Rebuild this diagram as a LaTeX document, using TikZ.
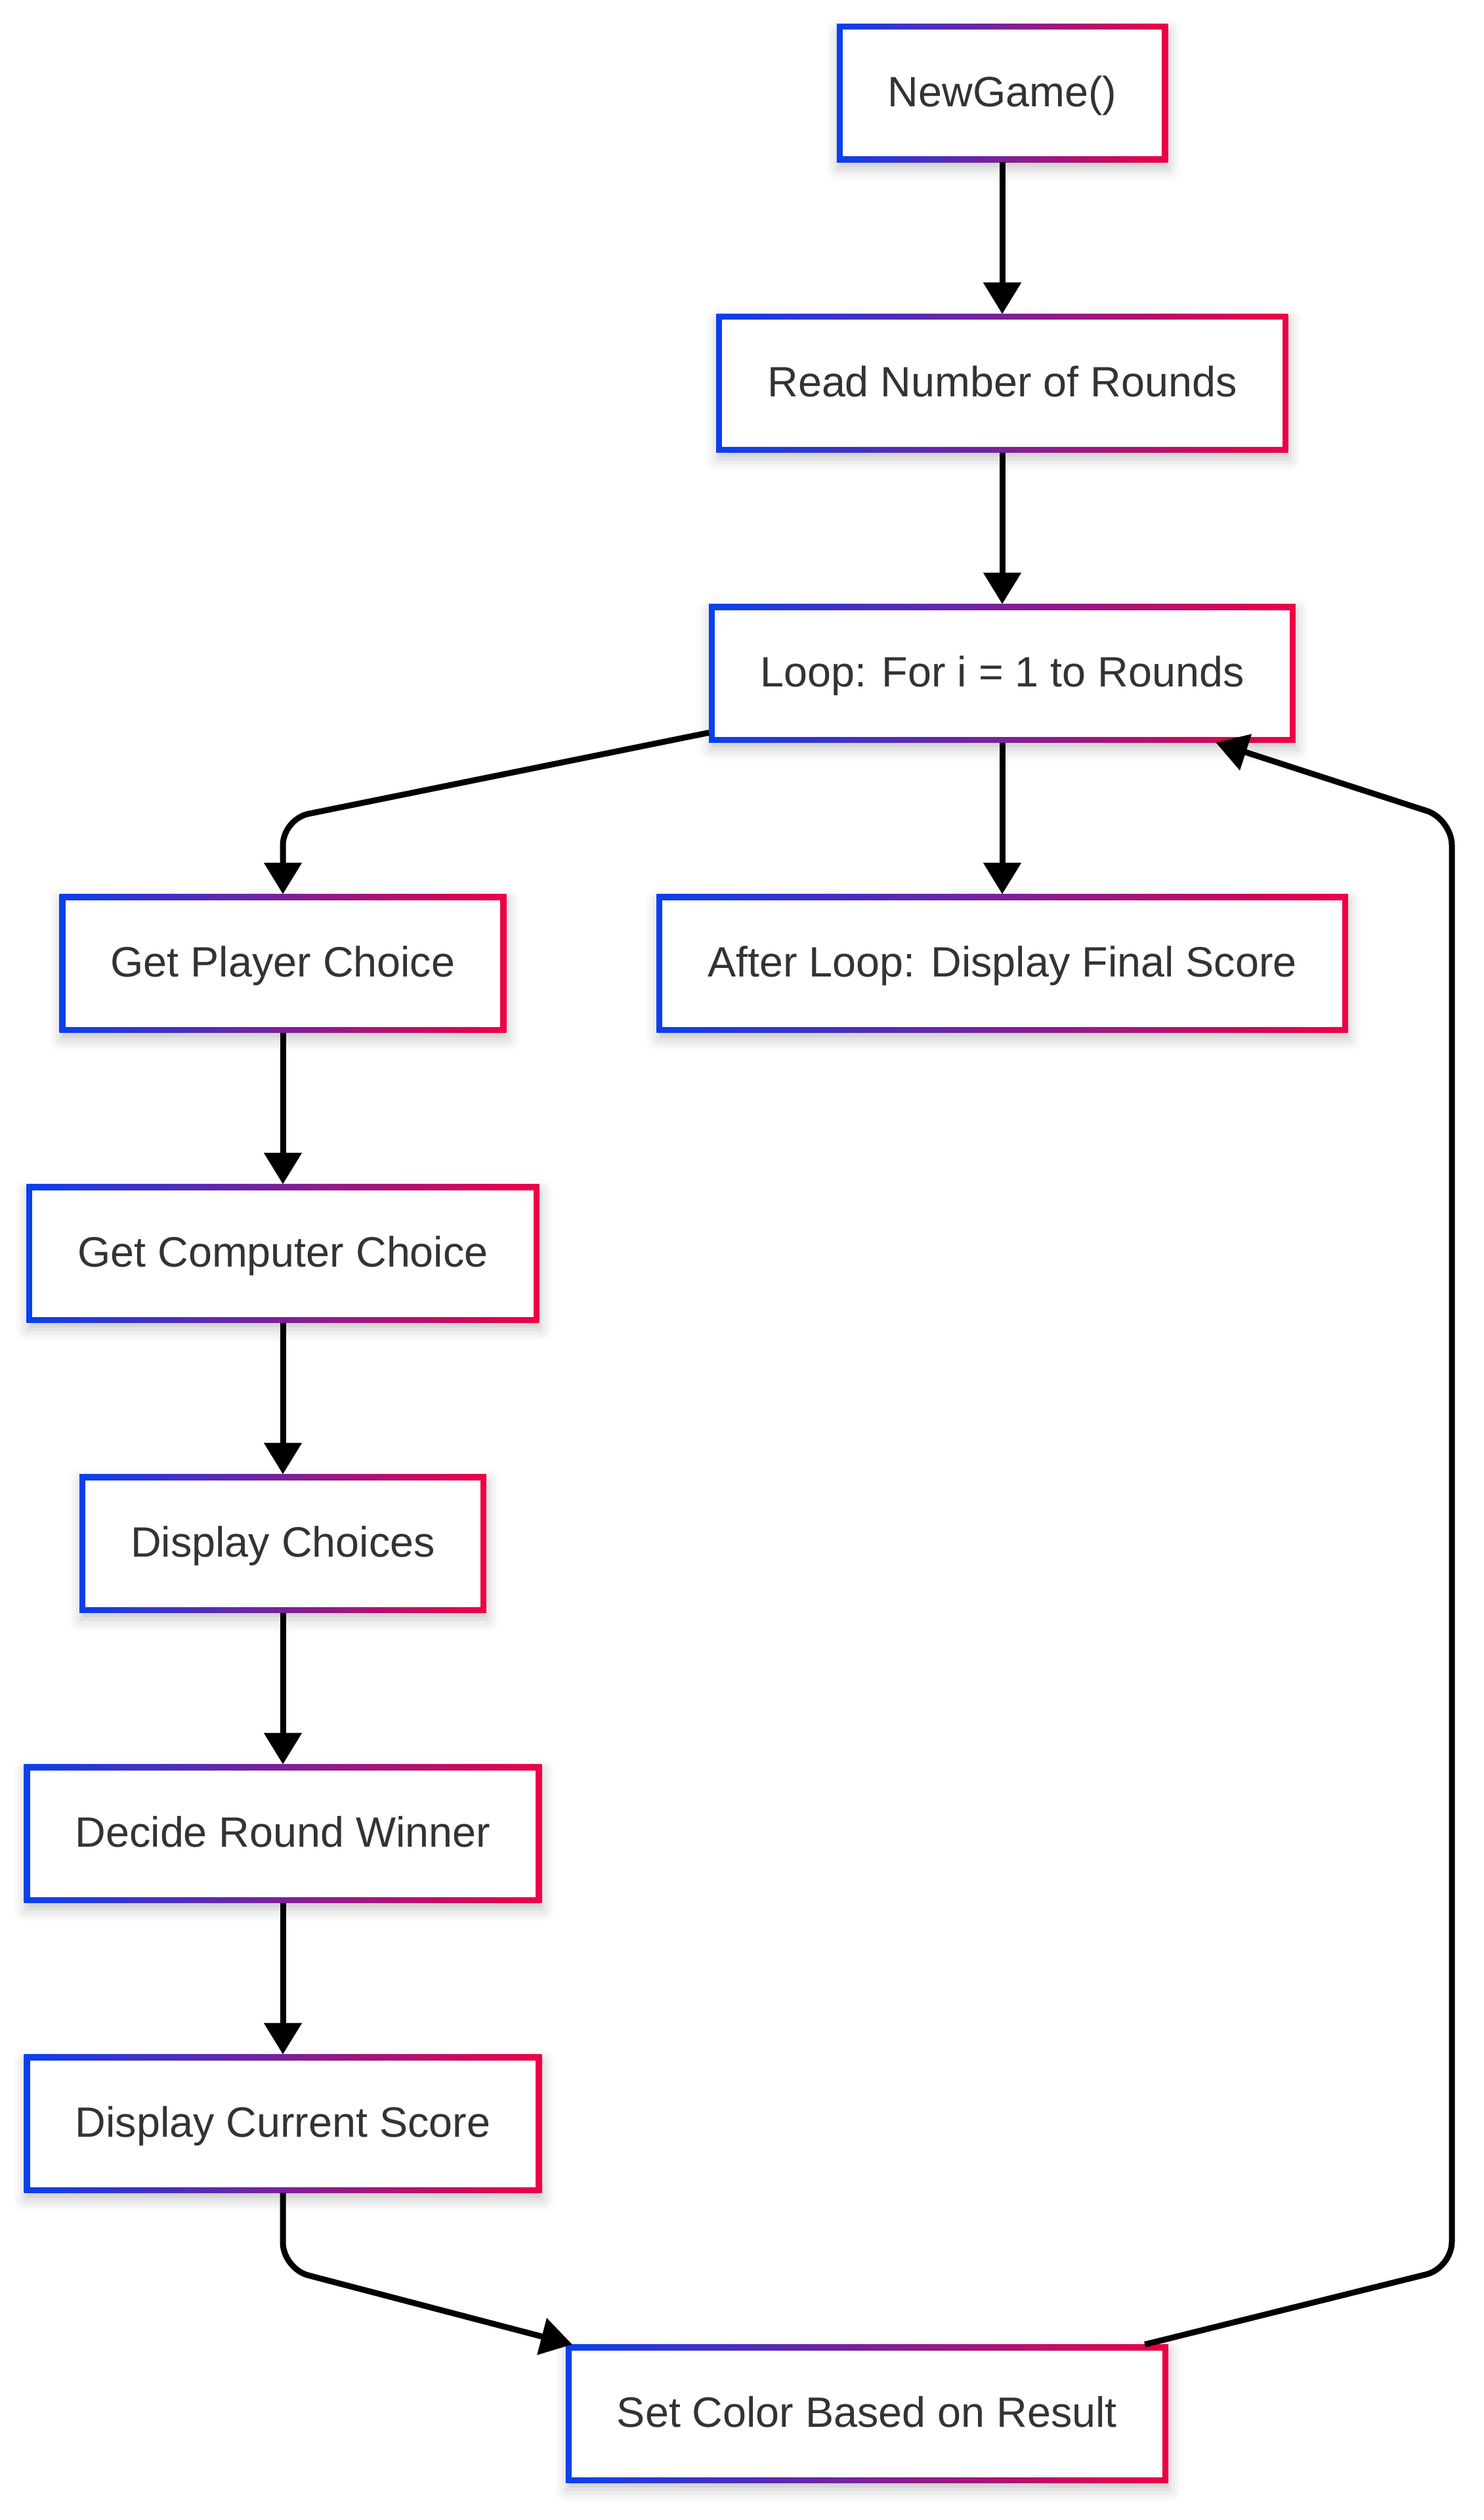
\documentclass[tikz,border=0pt]{standalone}
\usepackage{fontspec}
\setmainfont{Liberation Sans}
\usetikzlibrary{arrows.meta,positioning,shadows.blur}
\definecolor{gblue}{HTML}{0A40EE}
\definecolor{gred}{HTML}{EE0045}
\definecolor{ink}{HTML}{333333}

\begin{document}
\begin{tikzpicture}[
      node distance=2.31cm,
      gbox/.style={rectangle, left color=gblue, right color=gred,
                   minimum height=2.11cm, inner xsep=0.78cm, outer sep=0pt,
                   text height=0.5cm, text depth=0.084cm,
                   font=\fontsize{18.4}{22}\selectfont, text=ink,
                   blur shadow={shadow xshift=0.02cm, shadow yshift=-0.1cm,
                                shadow blur radius=0.18cm, shadow opacity=22},
                   path picture={\fill[white]
                     ([shift={(0.09cm,0.09cm)}]path picture bounding box.south west) rectangle
                     ([shift={(-0.09cm,-0.09cm)}]path picture bounding box.north east);}},
      arr/.style={-{Triangle[length=0.48cm, width=0.56cm]}, line width=0.09cm,
                  color=black, rounded corners=0.4cm}
    ]
      \useasboundingbox (0,0) rectangle (22.6,-38.4);
      \node[gbox] (newgame) at (15.27,-1.42) {NewGame()};
      \node[gbox, below=of newgame] (read) {Read Number of Rounds};
      \node[gbox, below=of read] (loop) {Loop: For i = 1 to Rounds};
      \node[gbox, below=of loop] (after) {After Loop: Display Final Score};
      \node[gbox, below=of loop, xshift=-10.96cm] (player) {Get Player Choice};
      \node[gbox, below=of player] (computer) {Get Computer Choice};
      \node[gbox, below=of computer] (choices) {Display Choices};
      \node[gbox, below=of choices] (decide) {Decide Round Winner};
      \node[gbox, below=of decide] (score) {Display Current Score};
      \node[gbox, below=of score, xshift=8.9cm] (setcolor) {Set Color Based on Result};
      % bends of the side connectors
      \coordinate (k1) at (4.31,-12.48);
      \coordinate (k2) at (4.31,-34.57);
      \coordinate (k3) at (22.12,-34.56);
      \coordinate (k4) at (22.12,-12.48);
      \draw[arr] (newgame) -- (read);
      \draw[arr] (read) -- (loop);
      \draw[arr] (loop) -- (after);
      \draw[arr] (loop) -- (k1) -- (player);
      \foreach \a/\b in {player/computer, computer/choices, choices/decide, decide/score}
        \draw[arr] (\a) -- (\b);
      \draw[arr] (score) -- (k2) -- ([xshift=0.1cm]setcolor.north west);
      \draw[arr] (setcolor) -- (k3) -- (k4) -- (loop);
    \end{tikzpicture}
\end{document}
